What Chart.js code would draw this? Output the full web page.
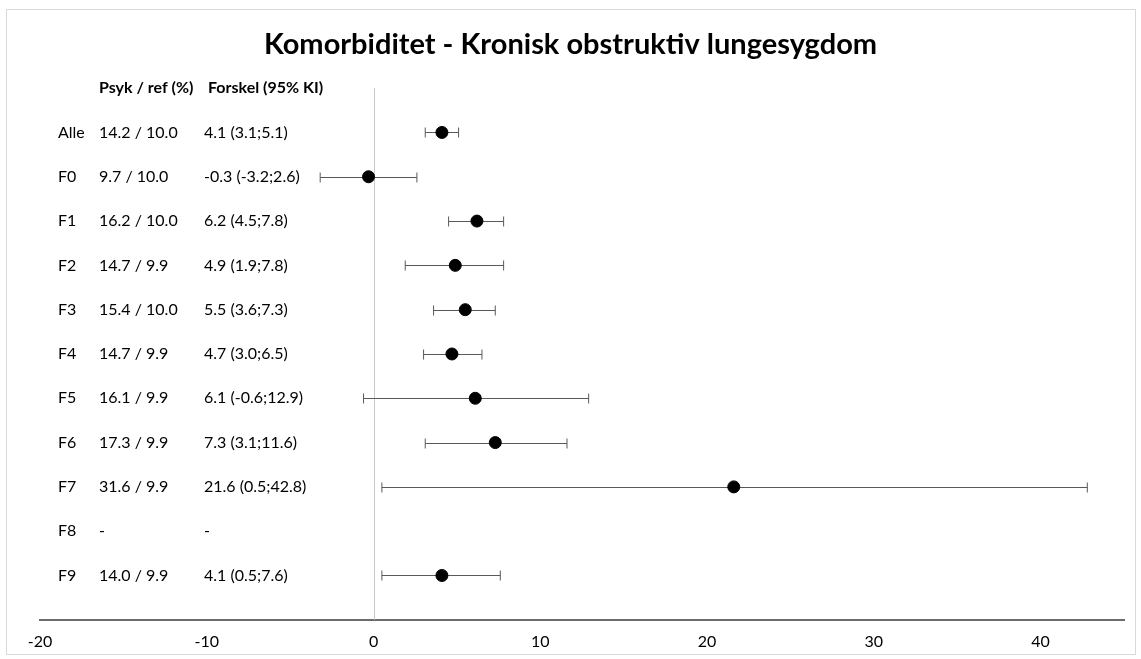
<!DOCTYPE html>
<html>
<head>
<meta charset="utf-8">
<script src="https://cdn.jsdelivr.net/npm/chart.js@4"></script>
<style>
  body { margin: 0; background: #fff; }
  #wrap { width: 1141px; height: 659px; }
</style>
</head>
<body>
<div id="wrap"><canvas id="chart" width="1141" height="659"></canvas></div>
<script>
const groups = ["Alle", "F0", "F1", "F2", "F3", "F4", "F5", "F6", "F7", "F8", "F9"];
const psykRef = ["14.2 / 10.0", "9.7 / 10.0", "16.2 / 10.0", "14.7 / 9.9", "15.4 / 10.0", "14.7 / 9.9",
                 "16.1 / 9.9", "17.3 / 9.9", "31.6 / 9.9", "-", "14.0 / 9.9"];
const forskelText = ["4.1 (3.1;5.1)", "-0.3 (-3.2;2.6)", "6.2 (4.5;7.8)", "4.9 (1.9;7.8)", "5.5 (3.6;7.3)",
                     "4.7 (3.0;6.5)", "6.1 (-0.6;12.9)", "7.3 (3.1;11.6)", "21.6 (0.5;42.8)", "-", "4.1 (0.5;7.6)"];
const diff = [4.1, -0.3, 6.2, 4.9, 5.5, 4.7, 6.1, 7.3, 21.6, null, 4.1];
const ciLow = [3.1, -3.2, 4.5, 1.9, 3.6, 3.0, -0.6, 3.1, 0.5, null, 0.5];
const ciHigh = [5.1, 2.6, 7.8, 7.8, 7.3, 6.5, 12.9, 11.6, 42.8, null, 7.6];
const headers = ["Psyk / ref (%)", "Forskel (95% KI)"];
const titleText = "Komorbiditet - Kronisk obstruktiv lungesygdom";

const FONT = "Lato, 'Open Sans', sans-serif";

// points: row 0 is the header row, groups start at row 1
const points = [];
diff.forEach((d, i) => {
  if (d !== null) points.push({ x: d, y: i + 1 });
});

const decorPlugin = {
  id: "decor",
  beforeDraw(chart) {
    const ctx = chart.ctx;
    ctx.save();
    ctx.strokeStyle = "#d9d9d9";
    ctx.lineWidth = 1;
    ctx.strokeRect(6.5, 9.5, 1129, 645);
    // title, centred on the whole image
    ctx.fillStyle = "#000";
    ctx.font = "bold 29px " + FONT;
    ctx.textAlign = "center";
    ctx.textBaseline = "middle";
    ctx.fillText(titleText, chart.width / 2, 45);
    ctx.restore();
  },
  beforeDatasetsDraw(chart) {
    const ctx = chart.ctx;
    const xs = chart.scales.x;
    const ys = chart.scales.y;
    ctx.save();

    // zero reference line
    const x0 = Math.round(xs.getPixelForValue(0)) + 0.5;
    ctx.strokeStyle = "#c8c8c8";
    ctx.lineWidth = 1;
    ctx.beginPath();
    ctx.moveTo(x0, ys.getPixelForValue(0));
    ctx.lineTo(x0, chart.chartArea.bottom);
    ctx.stroke();

    // confidence intervals
    ctx.strokeStyle = "#595959";
    ctx.lineWidth = 1;
    groups.forEach((g, i) => {
      if (ciLow[i] === null) return;
      const y = Math.round(ys.getPixelForValue(i + 1)) + 0.5;
      const xl = xs.getPixelForValue(ciLow[i]);
      const xh = xs.getPixelForValue(ciHigh[i]);
      ctx.beginPath();
      ctx.moveTo(xl, y);
      ctx.lineTo(xh, y);
      ctx.moveTo(xl, y - 5);
      ctx.lineTo(xl, y + 5);
      ctx.moveTo(xh, y - 5);
      ctx.lineTo(xh, y + 5);
      ctx.stroke();
    });

    // text table
    ctx.fillStyle = "#000";
    ctx.textBaseline = "middle";
    ctx.textAlign = "left";
    ctx.font = "bold 16px " + FONT;
    const yh = ys.getPixelForValue(0);
    ctx.fillText(headers[0], 99, yh);
    ctx.fillText(headers[1], 208, yh);
    ctx.font = "16px " + FONT;
    groups.forEach((g, i) => {
      const y = ys.getPixelForValue(i + 1);
      ctx.fillText(g, 58, y);
      ctx.fillText(psykRef[i], 99, y);
      ctx.fillText(forskelText[i], 204, y);
    });
    ctx.restore();
  }
};

new Chart(document.getElementById("chart"), {
  type: "scatter",
  data: {
    datasets: [{
      data: points,
      backgroundColor: "#000",
      borderColor: "#000",
      pointRadius: 6,
      pointHoverRadius: 6
    }]
  },
  options: {
    responsive: false,
    animation: false,
    layout: { padding: { left: 40, right: 17, top: 66, bottom: -4 } },
    plugins: {
      legend: { display: false },
      tooltip: { enabled: false },
      title: { display: false }
    },
    scales: {
      x: {
        type: "linear",
        min: -20,
        max: 45,
        afterBuildTicks(scale) {
          scale.ticks = scale.ticks.filter(t => t.value % 10 === 0);
        },
        ticks: { stepSize: 10, color: "#000", font: { family: FONT, size: 16 }, padding: 12, maxRotation: 0 },
        grid: { display: false, drawTicks: false },
        border: { display: true, color: "#6b6b6b", width: 2 }
      },
      y: {
        type: "linear",
        reverse: true,
        min: -0.5,
        max: 12,
        display: false
      }
    }
  },
  plugins: [decorPlugin]
});
</script>
</body>
</html>
